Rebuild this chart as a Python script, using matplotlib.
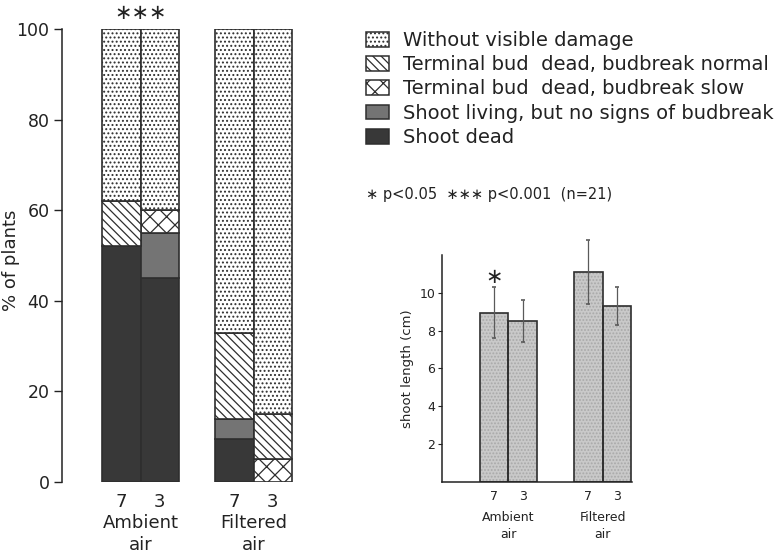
import matplotlib
matplotlib.use("Agg")
import matplotlib.pyplot as plt
from matplotlib.patches import Patch
import numpy as np

plt.rcParams['font.family'] = ['DejaVu Sans']
plt.rcParams['hatch.linewidth'] = 0.9

# ---- damage classes (stacked, % of plants) ----
groups = ["Ambient\nair", "Filtered\nair"]
provenances = ["7", "3", "7", "3"]
shoot_dead = [52, 45, 9.5, 0]
shoot_living = [0, 10, 4.5, 0]
bud_dead_slow = [0, 5, 0, 5]
bud_dead_normal = [10, 0, 19, 10]
no_damage = [38, 40, 67, 85]

class_labels = [
    "Without visible damage",
    "Terminal bud  dead, budbreak normal",
    "Terminal bud  dead, budbreak slow",
    "Shoot living, but no signs of budbreak",
    "Shoot dead",
]

# ---- shoot length (cm) ----
shoot_len = [8.95, 8.5, 11.1, 9.3]
shoot_err = [1.35, 1.1, 1.7, 1.0]

edge = "#2e2e2e"
ink = "#222222"
styles = {
    "dead": dict(facecolor="#383838", hatch=None),
    "living": dict(facecolor="#747474", hatch=None),
    "slow": dict(facecolor="white", hatch="xx"),
    "normal": dict(facecolor="white", hatch="\\\\\\\\"),
    "none": dict(facecolor="white", hatch="...."),
}

fig = plt.figure(figsize=(7.78, 5.55), dpi=100)

# ---------------- stacked bars ----------------
ax = fig.add_axes([62 / 778, 73 / 555, 248 / 778, 453 / 555])
x1 = np.array([0, 1, 2.935, 3.935])
layers = [
    (shoot_dead, "dead"),
    (shoot_living, "living"),
    (bud_dead_slow, "slow"),
    (bud_dead_normal, "normal"),
    (no_damage, "none"),
]
bottom = np.zeros(4)
for vals, key in layers:
    v = np.array(vals, dtype=float)
    ax.bar(x1, v, width=1.0, bottom=bottom, edgecolor=edge, linewidth=1.2,
           **styles[key])
    bottom += v

ax.set_xlim(-1.54, 4.90)
ax.set_ylim(0, 100)
ax.set_yticks([0, 20, 40, 60, 80, 100])
ax.tick_params(axis="y", labelsize=12.5, length=6, width=1, direction="out",
               pad=3, colors=ink)
ax.set_xticks(x1)
ax.set_xticklabels(provenances, fontsize=13)
ax.tick_params(axis="x", length=0, pad=8, colors=ink)
for s in ["top", "right", "bottom"]:
    ax.spines[s].set_visible(False)
ax.spines["left"].set_linewidth(1.1)
ax.spines["left"].set_color(ink)
ax.set_ylabel("% of plants", fontsize=13, color=ink)
ax.yaxis.set_label_coords(-42 / 248, 0.49)
for gc, g in zip([(x1[0] + x1[1]) / 2, (x1[2] + x1[3]) / 2], groups):
    ax.annotate(g, xy=(gc, 0), xycoords=("data", "axes fraction"),
                xytext=(0, -32), textcoords="offset pixels", ha="center",
                va="top", fontsize=13, linespacing=1.3, color=ink)
ax.annotate("∗∗∗", xy=((x1[0] + x1[1]) / 2, 100), xycoords="data",
            xytext=(0, 6), textcoords="offset pixels", ha="center",
            va="bottom", fontsize=15, color=ink)

# ---------------- legend ----------------
handles = [
    Patch(facecolor="white", hatch="....", edgecolor=edge, linewidth=1.1),
    Patch(facecolor="white", hatch="\\\\\\\\", edgecolor=edge, linewidth=1.1),
    Patch(facecolor="white", hatch="xx", edgecolor=edge, linewidth=1.1),
    Patch(facecolor="#747474", edgecolor=edge, linewidth=1.1),
    Patch(facecolor="#383838", edgecolor=edge, linewidth=1.1),
]
fig.legend(handles, class_labels, loc="upper left",
           bbox_to_anchor=(366 / 778, 1 - 31 / 555), frameon=False,
           fontsize=14, handlelength=1.2, handleheight=0.8,
           handletextpad=0.7, labelspacing=0.27, borderaxespad=0,
           borderpad=0, labelcolor=ink)
fig.text(366 / 778, 1 - 195 / 555, "∗ p<0.05  ∗∗∗ p<0.001  (n=21)",
         fontsize=10.5, va="center", ha="left", color=ink)

# ---------------- shoot length bars ----------------
ax2 = fig.add_axes([442 / 778, 73.3 / 555, 190 / 778, 226.7 / 555])
x2 = np.array([0, 1, 3.3, 4.3])
ax2.bar(x2, shoot_len, width=1.0, color="#c9c9c9", hatch=".....",
        edgecolor="#a9a9a9", linewidth=0)
ax2.bar(x2, shoot_len, width=1.0, fill=False, edgecolor=edge, linewidth=1.2)
eb = ax2.errorbar(x2, shoot_len, yerr=shoot_err, fmt="none", ecolor="#5a5a5a",
                  elinewidth=0.9, capsize=1.5, capthick=1.2)
for art in eb.lines[1] + eb.lines[2]:
    art.set_clip_on(False)
ax2.set_xlim(-1.83, 4.83)
ax2.set_ylim(0, 12)
ax2.set_yticks([2, 4, 6, 8, 10])
ax2.tick_params(axis="y", labelsize=9, length=3, width=0.8, pad=2,
                colors=ink)
ax2.set_xticks(x2)
ax2.set_xticklabels(provenances, fontsize=9)
ax2.tick_params(axis="x", length=0, pad=6, colors=ink)
for s in ["top", "right"]:
    ax2.spines[s].set_visible(False)
for s in ["left", "bottom"]:
    ax2.spines[s].set_linewidth(1.1)
    ax2.spines[s].set_color(ink)
ax2.set_ylabel("shoot length (cm)", fontsize=9.5, labelpad=4, color=ink)
for gc, g in zip([(x2[0] + x2[1]) / 2, (x2[2] + x2[3]) / 2], groups):
    ax2.annotate(g, xy=(gc, 0), xycoords=("data", "axes fraction"),
                 xytext=(0, -29), textcoords="offset pixels", ha="center",
                 va="top", fontsize=9, linespacing=1.4, color=ink)
ax2.annotate("∗", xy=(x2[0], shoot_len[0] + shoot_err[0]), xycoords="data",
             xytext=(0, 0), textcoords="offset pixels", ha="center",
             va="bottom", fontsize=15, color=ink)

fig.savefig("out.png", dpi=100)
